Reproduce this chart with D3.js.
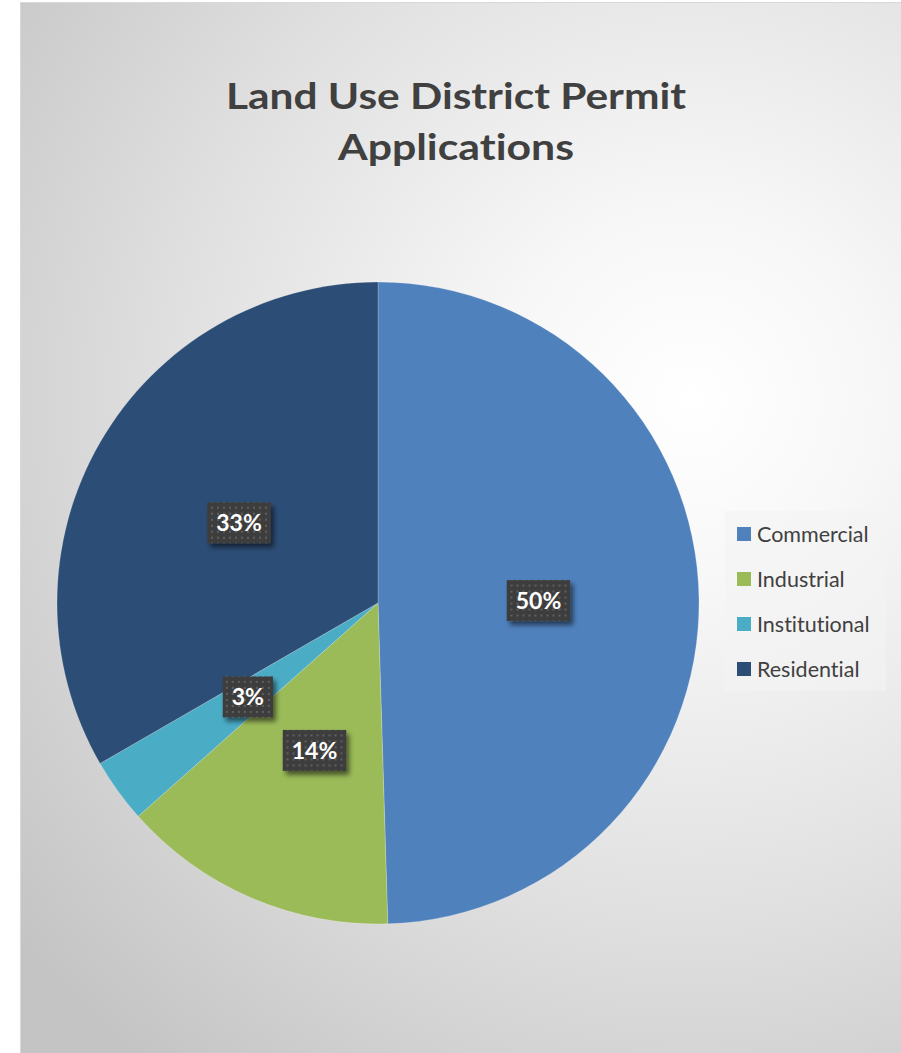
<!DOCTYPE html>
<html>
<head>
<meta charset="utf-8">
<script src="https://cdn.jsdelivr.net/npm/d3@7/dist/d3.min.js"></script>
<style>
  html, body { margin: 0; padding: 0; background: #ffffff; }
  svg { display: block; }
  text { font-variant-ligatures: none; font-feature-settings: "liga" 0; }
</style>
</head>
<body>
<svg id="chart" width="901" height="1053"></svg>
<script>
// Permit applications by land use district
const categories = ["Commercial", "Industrial", "Institutional", "Residential"];
const applications = [153, 43, 10, 103];
const sliceColors = ["#4f81bd", "#9bbb59", "#4bacc6", "#2c4d75"];
const titleLines = ["Land Use District Permit", "Applications"];

const svg = d3.select("#chart");
const W = 901, H = 1053;
const fontFamily = "Lato, 'Open Sans', 'DejaVu Sans', sans-serif";

const defs = svg.append("defs");

// Chart-area radial gradient
const bg = defs.append("radialGradient")
  .attr("id", "bgGrad")
  .attr("gradientUnits", "userSpaceOnUse")
  .attr("cx", 690).attr("cy", 400).attr("r", 860);
bg.append("stop").attr("offset", "0").attr("stop-color", "#ffffff");
bg.append("stop").attr("offset", "0.22").attr("stop-color", "#f7f7f7");
bg.append("stop").attr("offset", "0.6").attr("stop-color", "#e0e0e0");
bg.append("stop").attr("offset", "1").attr("stop-color", "#c4c4c4");

// Dotted texture for the data label boxes
const pat = defs.append("pattern")
  .attr("id", "dots")
  .attr("patternUnits", "userSpaceOnUse")
  .attr("width", 6).attr("height", 6);
pat.append("rect").attr("width", 6).attr("height", 6).attr("fill", "#3e3e3e");
pat.append("rect").attr("x", 2).attr("y", 2).attr("width", 2).attr("height", 2).attr("fill", "#5e5e5e");

// Soft drop shadow for label boxes
const sh = defs.append("filter").attr("id", "shadow")
  .attr("x", "-30%").attr("y", "-30%").attr("width", "170%").attr("height", "180%");
sh.append("feGaussianBlur").attr("in", "SourceAlpha").attr("stdDeviation", 2.5).attr("result", "b");
sh.append("feOffset").attr("in", "b").attr("dx", 3).attr("dy", 4).attr("result", "o");
sh.append("feComponentTransfer").attr("in", "o").attr("result", "s")
  .append("feFuncA").attr("type", "linear").attr("slope", 0.55);
const m = sh.append("feMerge");
m.append("feMergeNode").attr("in", "s");
m.append("feMergeNode").attr("in", "SourceGraphic");

// Chart area
svg.append("rect")
  .attr("x", 20.5).attr("y", 2.5)
  .attr("width", W - 20).attr("height", H)
  .attr("fill", "url(#bgGrad)")
  .attr("stroke", "#d9d9d9").attr("stroke-width", 1);

// Title
const titleWidths = [460, 236];
const title = svg.append("g")
  .attr("font-family", fontFamily)
  .attr("font-weight", 700)
  .attr("font-size", 37)
  .attr("fill", "#404040");
titleLines.forEach((line, i) => {
  title.append("text")
    .attr("text-anchor", "middle")
    .attr("x", 456)
    .attr("y", 109 + i * 51)
    .attr("textLength", titleWidths[i])
    .attr("lengthAdjust", "spacingAndGlyphs")
    .text(line);
});

// Pie
const cx = 378, cy = 603, R = 321;
const total = d3.sum(applications);
const pie = d3.pie().sort(null).value(d => d.value);
const arcs = pie(categories.map((c, i) => ({ name: c, value: applications[i], color: sliceColors[i] })));
const arc = d3.arc().innerRadius(0).outerRadius(R);

const g = svg.append("g").attr("transform", `translate(${cx},${cy})`);
g.selectAll("path.slice")
  .data(arcs)
  .join("path")
  .attr("class", "slice")
  .attr("d", arc)
  .attr("fill", d => d.data.color)
  .attr("stroke", "rgba(255,255,255,0.35)")
  .attr("stroke-width", 0.6);

// Data labels at the slice centroids
const fmt = v => Math.round(v / total * 100) + "%";
const labels = g.selectAll("g.lbl")
  .data(arcs)
  .join("g")
  .attr("class", "lbl")
  .attr("transform", d => {
    const [x, y] = arc.centroid(d);
    return `translate(${x},${y})`;
  });
labels.each(function (d) {
  const sel = d3.select(this);
  const txt = sel.append("text")
    .attr("text-anchor", "middle")
    .attr("dy", "0.36em")
    .attr("font-family", fontFamily)
    .attr("font-weight", 700)
    .attr("font-size", 23)
    .attr("fill", "#ffffff")
    .text(fmt(d.value));
  const w = txt.node().getComputedTextLength() + 18;
  const h = 41;
  sel.insert("rect", "text")
    .attr("x", -w / 2).attr("y", -h / 2)
    .attr("width", w).attr("height", h)
    .attr("fill", "url(#dots)")
    .attr("filter", "url(#shadow)");
});

// Legend
const legend = svg.append("g");
legend.append("rect")
  .attr("x", 725).attr("y", 511)
  .attr("width", 161).attr("height", 180)
  .attr("fill", "#f4f4f4").attr("opacity", 0.6);
const rows = legend.selectAll("g.row")
  .data(categories)
  .join("g")
  .attr("class", "row")
  .attr("transform", (d, i) => `translate(737,${534 + i * 45})`);
rows.append("rect")
  .attr("x", 0).attr("y", -7)
  .attr("width", 14).attr("height", 14)
  .attr("fill", (d, i) => sliceColors[i]);
rows.append("text")
  .attr("x", 20).attr("y", 0)
  .attr("dy", "0.35em")
  .attr("font-family", fontFamily)
  .attr("font-size", 21.5)
  .attr("fill", "#404040")
  .text(d => d);
</script>
</body>
</html>
